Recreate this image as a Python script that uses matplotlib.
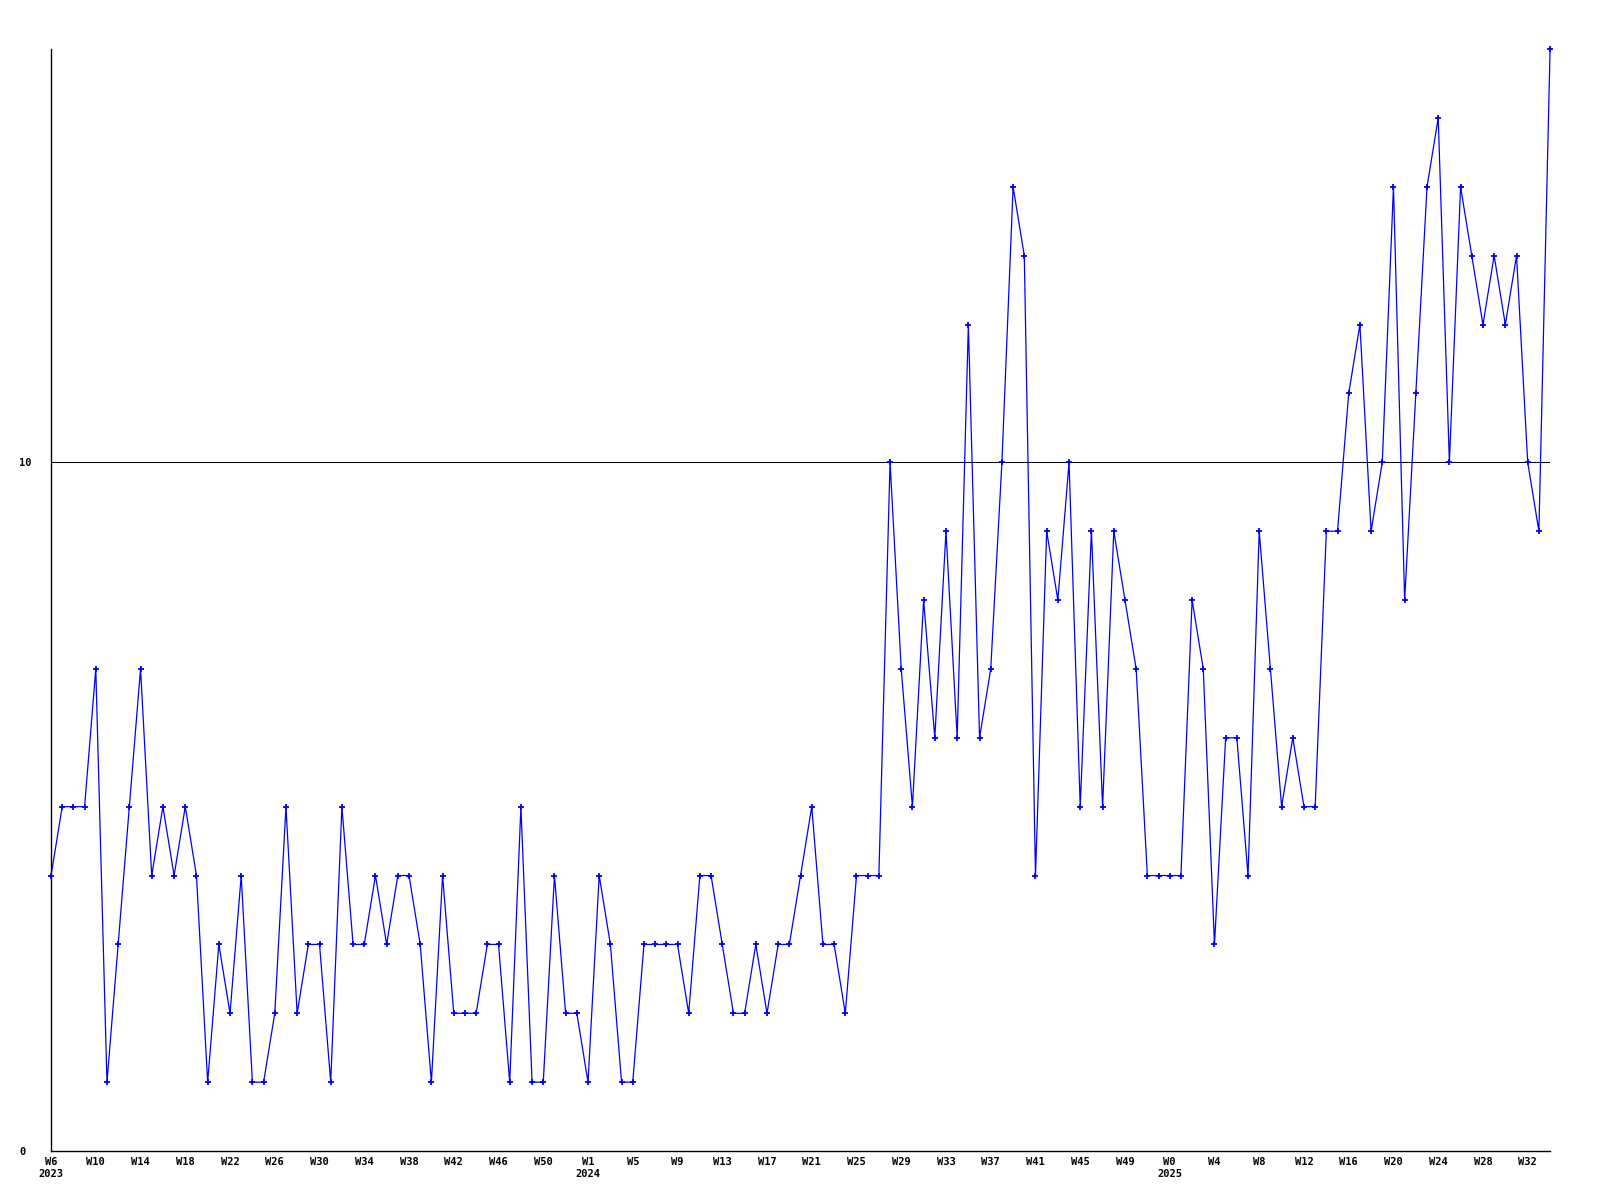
import matplotlib
matplotlib.use("Agg")
import matplotlib.pyplot as plt

# weekly counts, one per week from 2023 W6 on
values = [
    4, 5, 5, 5, 7, 1, 3, 5, 7, 4, 5, 4, 5, 4, 1, 3, 2, 4, 1, 1,
    2, 5, 2, 3, 3, 1, 5, 3, 3, 4, 3, 4, 4, 3, 1, 4, 2, 2, 2, 3,
    3, 1, 5, 1, 1, 4, 2, 2, 1, 4, 3, 1, 1, 3, 3, 3, 3, 2, 4, 4,
    3, 2, 2, 3, 2, 3, 3, 4, 5, 3, 3, 2, 4, 4, 4, 10, 7, 5, 8, 6,
    9, 6, 12, 6, 7, 10, 14, 13, 4, 9, 8, 10, 5, 9, 5, 9, 8, 7, 4, 4,
    4, 4, 8, 7, 3, 6, 6, 4, 9, 7, 5, 6, 5, 5, 9, 9, 11, 12, 9, 10,
    14, 8, 11, 14, 15, 10, 14, 13, 12, 13, 12, 13, 10, 9, 16,
]

# a label every 4th week
week_labels = [
    "W6", "W10", "W14", "W18", "W22", "W26", "W30", "W34", "W38", "W42", "W46", "W50",
    "W1", "W5", "W9", "W13", "W17", "W21", "W25", "W29", "W33", "W37", "W41", "W45", "W49",
    "W0", "W4", "W8", "W12", "W16", "W20", "W24", "W28", "W32",
]
year_labels = ["2023", "2024", "2025"]
year_label_pos = [0, 12, 25]   # which week label gets the year under it

y_ticks = [0, 10]
y_max = 16
ref_level = 10

FONT = dict(family="DejaVu Sans Mono", weight="bold", size=7.5)

labels = list(week_labels)
for pos, yr in zip(year_label_pos, year_labels):
    labels[pos] = labels[pos] + "\n" + yr

x = list(range(len(values)))

fig = plt.figure(figsize=(16, 12), dpi=100)
ax = fig.add_axes([0.0319, 0.0408, 0.9369, 0.9183])

ax.axhline(ref_level, color="black", lw=0.75, zorder=1)
ax.plot(x, values, color="#0000ff", lw=0.9, marker="+", ms=4, mew=1.3,
        clip_on=False, zorder=3)

ax.set_xlim(0, len(values) - 1)
ax.set_ylim(0, y_max)

ax.set_xticks(x[::4])
ax.set_xticklabels(labels, fontdict=FONT, linespacing=1.3)
ax.set_yticks(y_ticks)
ax.set_yticklabels([str(v) for v in y_ticks], fontdict=FONT, ha="left")
ax.tick_params(axis="x", length=0, pad=4)
ax.tick_params(axis="y", length=0, pad=23)

for side in ("top", "right"):
    ax.spines[side].set_visible(False)
for side in ("left", "bottom"):
    ax.spines[side].set_color("black")
    ax.spines[side].set_linewidth(1.0)

fig.savefig("out.png", dpi=100)
plt.close(fig)
